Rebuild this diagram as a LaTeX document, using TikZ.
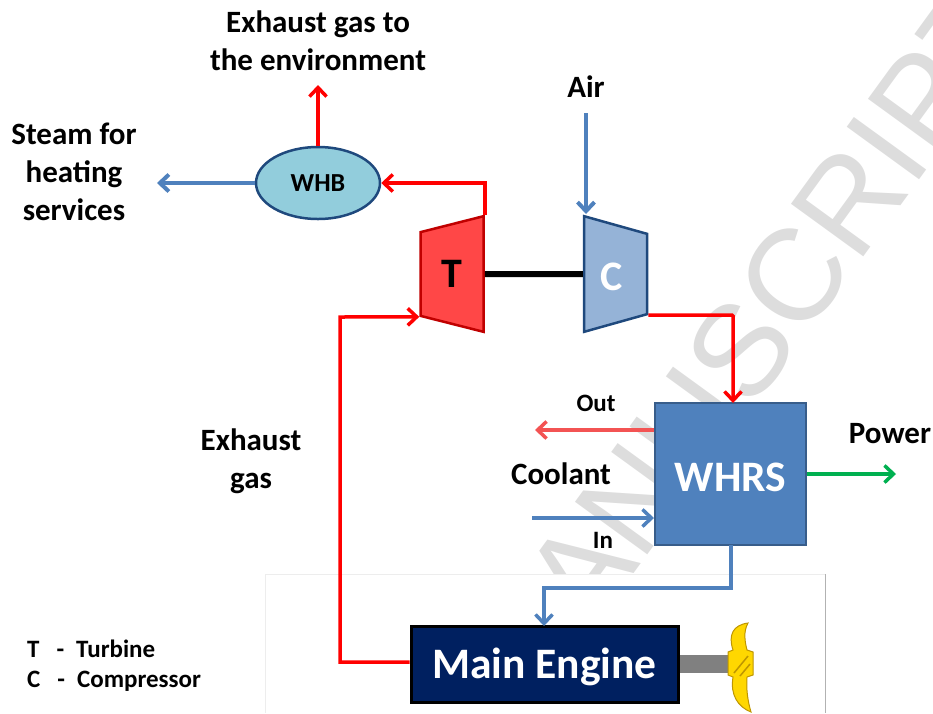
\documentclass[tikz,border=0pt]{standalone}
\usepackage{fontspec}
\setmainfont{Carlito}
\newfontfamily\markfont{Liberation Sans}
\usetikzlibrary{arrows.meta,calc,positioning,shapes.geometric}
\definecolor{PipeRed}{RGB}{255,0,0}
\definecolor{PipeBlue}{RGB}{79,129,189}
\definecolor{PipeGreen}{RGB}{0,176,80}
\definecolor{CoolantRed}{RGB}{243,83,83}
\definecolor{TurbineFill}{RGB}{255,71,71}
\definecolor{TurbineLine}{RGB}{192,0,0}
\definecolor{CompFill}{RGB}{149,179,215}
\definecolor{CompLine}{RGB}{31,73,125}
\definecolor{WhbFill}{RGB}{146,205,220}
\definecolor{WhrsLine}{RGB}{56,93,138}
\definecolor{EngineFill}{RGB}{0,32,96}
\definecolor{MarkGray}{RGB}{221,221,221}
\definecolor{PropYellow}{RGB}{255,215,0}
\definecolor{PropDark}{RGB}{190,150,0}

\begin{document}
\begin{tikzpicture}[x=1pt,y=-1pt,>={Straight Barb[length=9pt,width=17pt]}]
\tikzstyle{pipe}=[->,line width=3.5pt,PipeRed]
\tikzstyle{bluepipe}=[->,line width=3.5pt,PipeBlue]
\tikzstyle{turbo}=[trapezium,trapezium stretches=true,trapezium left angle=76,trapezium right angle=76,minimum width=116pt,minimum height=63pt,inner sep=0pt,line width=2.5pt,font=\fontsize{42}{42}\selectfont\bfseries]
\tikzstyle{label}=[align=center,font=\fontsize{31}{38}\selectfont\bfseries,inner sep=0pt]
\tikzstyle{small}=[font=\fontsize{25}{30}\selectfont\bfseries,inner sep=0pt]
\useasboundingbox (0,0) rectangle (933,713);
\clip (0,0) rectangle (933,713);
% watermark and the frame over it
\node[rotate=54,MarkGray,font=\markfont\fontsize{130}{130}\selectfont] (mark) at (743,347) {MANUSCRIPT};
\fill[white] (265,574) rectangle (825,713);
\draw[black!7] (265,713) -- (265,574) -- (825,574);
\draw[black!30] (825,574) -- (825,713);
% machines
\node[turbo,shape border rotate=90,draw=TurbineLine,fill=TurbineFill] (T) at (452,274) {T};
\node[turbo,shape border rotate=270,draw=CompLine,fill=CompFill,text=white,text height=34pt,right=98pt of T] (C) {C\kern8pt};
\node[ellipse,draw=CompLine,line width=2.5pt,fill=WhbFill,minimum width=124pt,minimum height=72pt,inner sep=0pt,font=\fontsize{26}{26}\selectfont\bfseries] (WHB) at (318,183) {WHB};
\node[draw=WhrsLine,line width=2.5pt,fill=PipeBlue,text=white,minimum width=151pt,minimum height=142pt,inner sep=0pt,text height=34pt,text depth=0pt,font=\fontsize{43.5}{44}\selectfont\bfseries] (WHRS) at (730.5,474) {WHRS};
\node[draw=black,line width=3pt,fill=EngineFill,text=white,minimum width=267pt,minimum height=76pt,inner sep=0pt,text depth=2pt,font=\fontsize{43.5}{44}\selectfont\bfseries] (engine) at (544.5,664) {Main Engine};
\node[fill=black!50,minimum width=50pt,minimum height=18pt,inner sep=0pt,right=0pt of engine] (shaft) {};
% propeller
\draw[PropDark,fill=PropYellow,line width=1pt] (733,650) .. controls (728,635) and (733,625) .. (748,623) .. controls (743,632) and (745,642) .. (747,650) -- (753,652) -- (753,675) -- (747,677) .. controls (746,690) and (748,702) .. (751,712) .. controls (738,707) and (730,695) .. (733,677) -- (728,675) -- (728,652) -- cycle;
\draw[PropDark,line width=1.5pt] (734,673) -- (748,656) (740,676) -- (750,664);
% labels
\node[label] (exhaustout) at (318,41) {Exhaust gas to\\the environment};
\node[label] (air) at (586,87) {Air};
\node[label] (steam) at (74,172) {Steam for\\heating\\services};
\node[label] (exhaustin) at (251,461) {Exhaust\\gas};
\node[label] (coolant) at (561,474) {Coolant};
\node[label] (power) at (890,434) {Power};
\node[small] (out) at (596,403) {Out};
\node[small] (in) at (603,540) {In};
\node[small,anchor=base west] (legendT) at (27,657) {T\hspace{17pt}-\hspace{12pt}Turbine};
\node[small,anchor=base west] (legendC) at (27,687) {C\hspace{17pt}-\hspace{12pt}Compressor};
% free ends
\coordinate (gasend) at (318,85);
\coordinate (steamend) at (157,183);
\coordinate (airstart) at (586,113);
\coordinate (airend) at (586,214);
\coordinate (whrsin) at (733,403);
\coordinate (outend) at (535,430);
\coordinate (instart) at (532,518);
\coordinate (inend) at (654,518);
\coordinate (powerend) at (896,474);
\coordinate (whrsout) at (731,545);
\coordinate (enginein) at (544,626);
% connectors
\draw[line width=6pt] (T.bottom side) -- (C.bottom side);
\draw[pipe] (WHB.north) -- (gasend);
\draw[bluepipe,line width=4pt] (WHB.west) -- (steamend);
\draw[pipe] (T.bottom right corner) |- (WHB.east);
\draw[bluepipe,line width=4pt] (airstart) -- (airend);
\draw[pipe] (engine.west |- 0,662) -- (340,662) -- (340,317) -- (T.top left corner);
\draw[pipe,rounded corners=1pt] (C.top right corner) -| (whrsin);
\draw[pipe,CoolantRed] (WHRS.west |- outend) -- (outend);
\draw[bluepipe] (instart) -- (inend);
\draw[pipe,PipeGreen] (WHRS.east) -- (powerend);
\draw[bluepipe] (whrsout) -- (731,588) -- (544,588) -- (enginein);
\end{tikzpicture}
\end{document}
